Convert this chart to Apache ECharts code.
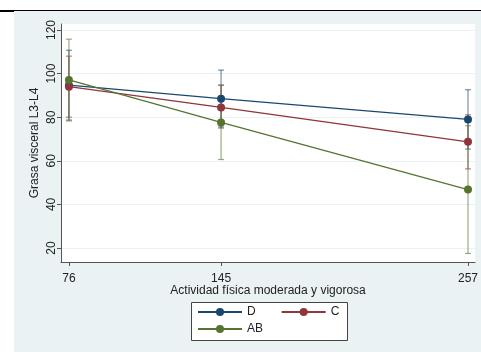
<!DOCTYPE html>
<html>
<head>
<meta charset="utf-8">
<script src="https://cdn.jsdelivr.net/npm/echarts@6/dist/echarts.min.js"></script>
<style>html,body{margin:0;padding:0;background:#fff}#c{width:481px;height:352px}</style>
</head>
<body>
<div id="c"></div>
<script>
var xValues = [76, 145, 257];
var xTicks = [76, 145, 257];
var yTicks = [20, 40, 60, 80, 100, 120];
var seriesNames = ['D', 'C', 'AB'];
var meanD = [94.7, 88.5, 79.0];
var lowD = [78.7, 75.5, 65.4];
var highD = [110.7, 101.6, 92.6];
var meanC = [94.0, 84.5, 68.7];
var lowC = [80.0, 75.0, 56.3];
var highC = [108.0, 94.8, 81.1];
var meanAB = [97.1, 77.6, 46.8];
var lowAB = [78.3, 60.6, 17.5];
var highAB = [115.8, 94.6, 76.1];

var colors = ['#1a476f', '#90353b', '#55752f'];
var barColors = ['rgba(26,71,111,0.6)', 'rgba(144,53,59,0.6)', 'rgba(85,117,47,0.6)'];
var means = [meanD, meanC, meanAB];
var lows = [lowD, lowC, lowAB];
var highs = [highD, highC, highAB];

var chart = echarts.init(document.getElementById('c'), null, {renderer: 'canvas'});
var font = 'Liberation Sans, Arial, sans-serif';

var series = [];
seriesNames.forEach(function (name, i) {
  series.push({
    type: 'custom',
    name: name + '_err',
    silent: true,
    z: 2,
    data: xValues.map(function (x, j) { return [x, lows[i][j], highs[i][j]]; }),
    renderItem: function (params, api) {
      var lo = api.coord([api.value(0), api.value(1)]);
      var hi = api.coord([api.value(0), api.value(2)]);
      var cw = 3;
      var st = {stroke: barColors[i], lineWidth: 1.2};
      return {
        type: 'group',
        children: [
          {type: 'line', shape: {x1: lo[0], y1: lo[1], x2: hi[0], y2: hi[1]}, style: st},
          {type: 'line', shape: {x1: lo[0] - cw, y1: lo[1], x2: lo[0] + cw, y2: lo[1]}, style: st},
          {type: 'line', shape: {x1: hi[0] - cw, y1: hi[1], x2: hi[0] + cw, y2: hi[1]}, style: st}
        ]
      };
    }
  });
});
seriesNames.forEach(function (name, i) {
  series.push({
    type: 'line',
    name: name,
    z: 3,
    data: xValues.map(function (x, j) { return [x, means[i][j]]; }),
    symbol: 'circle',
    symbolSize: 8,
    color: colors[i],
    lineStyle: {color: colors[i], width: 1.3},
    itemStyle: {color: colors[i]}
  });
});

var legendCommon = {
  orient: 'horizontal',
  padding: 0,
  itemWidth: 44,
  itemHeight: 10,
  itemGap: 25,
  textStyle: {color: '#222', fontSize: 12, fontFamily: font}
};

chart.setOption({
  animation: false,
  backgroundColor: '#ffffff',
  graphic: [
    {type: 'rect', z: -10, shape: {x: 14, y: 11, width: 467, height: 341}, style: {fill: '#eaf2f3'}},
    {type: 'line', z: 10, shape: {x1: 0, y1: 10.5, x2: 481, y2: 10.5}, style: {stroke: '#000', lineWidth: 1}},
    {type: 'line', z: 10, shape: {x1: 0, y1: 11, x2: 14, y2: 11}, style: {stroke: '#000', lineWidth: 2}},
    {type: 'rect', z: -5, shape: {x: 191.5, y: 302.5, width: 156, height: 38}, style: {fill: '#ffffff', stroke: '#444', lineWidth: 1}}
  ],
  grid: {left: 61, top: 24, right: 4, bottom: 90, show: true, backgroundColor: '#ffffff', borderWidth: 0, containLabel: false},
  xAxis: {
    type: 'value',
    min: 72.4,
    max: 260.2,
    name: 'Actividad física moderada y vigorosa',
    nameLocation: 'middle',
    nameGap: 23,
    nameMoveOverlap: false,
    nameTextStyle: {color: '#222', fontSize: 12, fontFamily: font},
    axisLine: {show: true, onZero: false, lineStyle: {color: '#555', width: 1}},
    axisTick: {show: true, length: 4, customValues: xTicks, lineStyle: {color: '#555'}},
    axisLabel: {customValues: xTicks, margin: 11, color: '#222', fontSize: 12, fontFamily: font},
    splitLine: {show: false}
  },
  yAxis: {
    type: 'value',
    min: 13.6,
    max: 122.75,
    name: 'Grasa visceral L3-L4',
    nameLocation: 'middle',
    nameGap: 20,
    nameMoveOverlap: false,
    nameRotate: 90,
    nameTextStyle: {color: '#222', fontSize: 12, fontFamily: font},
    axisLine: {show: true, onZero: false, lineStyle: {color: '#555', width: 1}},
    axisTick: {show: true, length: 4, customValues: yTicks, lineStyle: {color: '#555'}},
    axisLabel: {customValues: yTicks, rotate: 90, margin: 3, color: '#222', fontSize: 12, fontFamily: font},
    splitLine: {show: true, lineStyle: {color: '#eaf2f3', width: 1}}
  },
  legend: [
    Object.assign({}, legendCommon, {left: 197, top: 306, data: ['D', 'C']}),
    Object.assign({}, legendCommon, {left: 197, top: 323, data: ['AB']})
  ],
  series: series
});
</script>
</body>
</html>
